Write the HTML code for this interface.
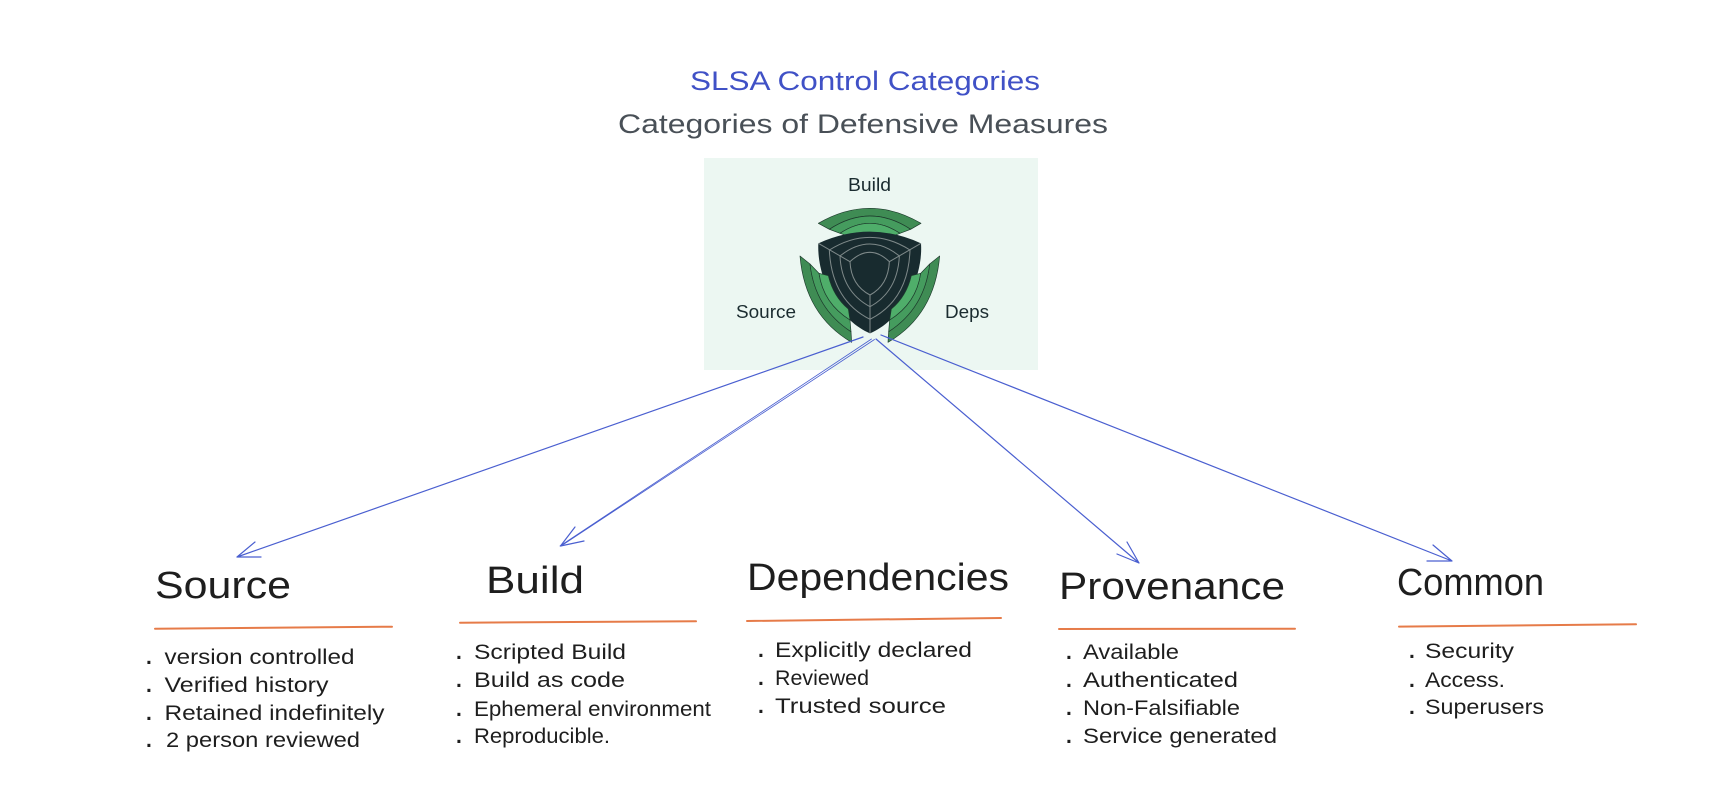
<!DOCTYPE html>
<html><head><meta charset="utf-8"><title>SLSA Control Categories</title>
<style>
html,body{margin:0;padding:0;background:#fff;width:1729px;height:799px;overflow:hidden}
svg{display:block}
text{font-family:"Liberation Sans",sans-serif}
.h{font-size:38px;fill:#1e1e1e}
.l{font-size:21px;fill:#1e1e1e}
.d{font-size:21px;fill:#1e1e1e;font-weight:bold}
.a{fill:none;stroke:#4a5fd0;stroke-width:1.2;stroke-linecap:round;stroke-linejoin:round}
.t{fill:none;stroke:#4a5fd0;stroke-width:.8;stroke-linecap:round}
.o{stroke:#e2652a;stroke-width:2;stroke-linecap:round;opacity:.85}
.g{fill:none;stroke:#7f8a8a;stroke-width:3}
.e{stroke:#1d3a2c;stroke-width:2;stroke-linejoin:round}
.i{font-size:18.5px;fill:#1b2c30}
</style></head><body>
<svg width="1729" height="799" viewBox="0 0 1729 799" xmlns="http://www.w3.org/2000/svg">
<rect width="1729" height="799" fill="#fff"/>
<text x="690" y="90" font-size="27" fill="#4051c6" textLength="350" lengthAdjust="spacingAndGlyphs">SLSA Control Categories</text>
<text x="618" y="133" font-size="27" fill="#495057" textLength="490" lengthAdjust="spacingAndGlyphs">Categories of Defensive Measures</text>

<rect x="704" y="158" width="334" height="212" fill="#ecf7f2"/>
<text class="i" x="848" y="191" textLength="43" lengthAdjust="spacingAndGlyphs">Build</text>
<text class="i" x="736" y="318" textLength="60" lengthAdjust="spacingAndGlyphs">Source</text>
<text class="i" x="945" y="318" textLength="44" lengthAdjust="spacingAndGlyphs">Deps</text>

<g transform="translate(795,205) scale(.33333)">
  <g class="e">
    <path fill="#3f8c54" d="M70 55Q225 -35 378 55L347 73Q225 -7 103 73Z"/>
    <path fill="#459c5e" d="M103 73Q225 -7 347 73L315 85Q225 25 135 85Z"/>
    <path fill="#4fae6a" d="M135 85Q225 25 315 85L285 97L170 97Z"/>
  </g>
  <path fill="#182b2f" d="M70 115Q225 45 378 115C385 220 320 345 225 385C130 345 65 220 70 115Z"/>
  <path class="g" d="M70 115L165 170M378 115L283 170M225 270V385"/>
  <path class="g" d="M165 170Q225 114 283 170Q280 240 225 270Q168 240 165 170Z"/>
  <path class="g" d="M135 153Q225 81 313 153Q308 260 225 305Q140 260 135 153Z"/>
  <path class="g" d="M103 135Q225 59 345 135Q340 285 225 343Q110 285 103 135Z"/>
  <g class="e">
    <path fill="#3f8c54" d="M15 153Q30 330 170 412L168 380Q60 310 45 177Z"/>
    <path fill="#459c5e" d="M45 177Q60 310 168 380L165 345Q85 295 72 205Z"/>
    <path fill="#4fae6a" d="M72 205Q85 295 165 345L160 312Q115 275 100 212Z"/>
    <path fill="#3f8c54" d="M434 153Q419 330 279 412L281 380Q389 310 404 177Z"/>
    <path fill="#459c5e" d="M404 177Q389 310 281 380L284 345Q364 295 377 205Z"/>
    <path fill="#4fae6a" d="M377 205Q364 295 284 345L289 312Q334 275 349 212Z"/>
  </g>
</g>

<g class="a">
  <path d="M863 337L237 557M255 542L237 557L261 557"/>
  <path d="M575 527L560.5 546L584 541"/>
  <path d="M876 339L1139 563M1127 542L1139 563L1117 554"/>
  <path d="M881 335L1452 561M1433 545L1452 561L1427 561"/>
</g>
<path class="t" d="M874.5 339.5L561 546M871.5 339L560 546"/>

<text class="h" x="155" y="598" textLength="136" lengthAdjust="spacingAndGlyphs">Source</text>
<text class="h" x="486" y="593" textLength="98" lengthAdjust="spacingAndGlyphs">Build</text>
<text class="h" x="747" y="590" textLength="262" lengthAdjust="spacingAndGlyphs">Dependencies</text>
<text class="h" x="1059" y="599" textLength="226" lengthAdjust="spacingAndGlyphs">Provenance</text>
<text class="h" x="1397" y="595" textLength="147" lengthAdjust="spacingAndGlyphs">Common</text>

<line class="o" x1="155" y1="628.7" x2="392" y2="626.7"/>
<line class="o" x1="460" y1="622.7" x2="696" y2="621.3"/>
<line class="o" x1="747" y1="621" x2="1001" y2="618"/>
<line class="o" x1="1059" y1="629" x2="1295" y2="628.7"/>
<line class="o" x1="1399" y1="626.6" x2="1636" y2="624.3"/>

<g>
<text class="d" x="146" y="664">.</text><text class="l" x="164.5" y="664" textLength="190" lengthAdjust="spacingAndGlyphs">version controlled</text>
<text class="d" x="146" y="692">.</text><text class="l" x="164.5" y="692" textLength="164" lengthAdjust="spacingAndGlyphs">Verified history</text>
<text class="d" x="146" y="720">.</text><text class="l" x="164.5" y="720" textLength="220" lengthAdjust="spacingAndGlyphs">Retained indefinitely</text>
<text class="d" x="146" y="747">.</text><text class="l" x="166" y="747" textLength="194" lengthAdjust="spacingAndGlyphs">2 person reviewed</text>

<text class="d" x="456" y="659">.</text><text class="l" x="474" y="659" textLength="152" lengthAdjust="spacingAndGlyphs">Scripted Build</text>
<text class="d" x="456" y="687">.</text><text class="l" x="474" y="687" textLength="151" lengthAdjust="spacingAndGlyphs">Build as code</text>
<text class="d" x="456" y="716">.</text><text class="l" x="474" y="716" textLength="237" lengthAdjust="spacingAndGlyphs">Ephemeral environment</text>
<text class="d" x="456" y="743">.</text><text class="l" x="474" y="743" textLength="136" lengthAdjust="spacingAndGlyphs">Reproducible.</text>

<text class="d" x="758" y="657">.</text><text class="l" x="775" y="657" textLength="197" lengthAdjust="spacingAndGlyphs">Explicitly declared</text>
<text class="d" x="758" y="685">.</text><text class="l" x="775" y="685" textLength="94" lengthAdjust="spacingAndGlyphs">Reviewed</text>
<text class="d" x="758" y="713">.</text><text class="l" x="775" y="713" textLength="171" lengthAdjust="spacingAndGlyphs">Trusted source</text>

<text class="d" x="1066" y="659">.</text><text class="l" x="1083" y="659" textLength="96" lengthAdjust="spacingAndGlyphs">Available</text>
<text class="d" x="1066" y="687">.</text><text class="l" x="1083" y="687" textLength="155" lengthAdjust="spacingAndGlyphs">Authenticated</text>
<text class="d" x="1066" y="715">.</text><text class="l" x="1083" y="715" textLength="157" lengthAdjust="spacingAndGlyphs">Non-Falsifiable</text>
<text class="d" x="1066" y="743">.</text><text class="l" x="1083" y="743" textLength="194" lengthAdjust="spacingAndGlyphs">Service generated</text>

<text class="d" x="1409" y="658">.</text><text class="l" x="1425" y="658" textLength="89" lengthAdjust="spacingAndGlyphs">Security</text>
<text class="d" x="1409" y="687">.</text><text class="l" x="1425" y="687" textLength="80" lengthAdjust="spacingAndGlyphs">Access.</text>
<text class="d" x="1409" y="714">.</text><text class="l" x="1425" y="714" textLength="119" lengthAdjust="spacingAndGlyphs">Superusers</text>
</g>
</svg>
</body></html>
